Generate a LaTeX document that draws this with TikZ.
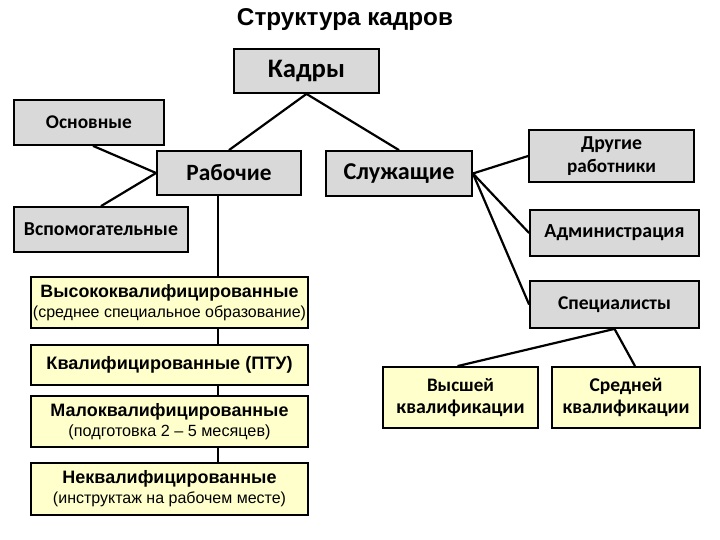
\documentclass[tikz,border=0pt]{standalone}
\usepackage{fontspec}
\setmainfont{Carlito}
\newfontfamily\arial{Liberation Sans}
\definecolor{boxgray}{HTML}{D9D9D9}
\definecolor{boxyellow}{HTML}{FFFFCC}
\newcommand{\fw}[2]{\resizebox{#1pt}{!}{#2}}
\begin{document}
\begin{tikzpicture}[x=1pt,y=-1pt,
  gbox/.style={draw=black,line width=1.8pt,fill=boxgray,inner sep=0pt,align=center,font=\bfseries},
  ybox/.style={draw=black,line width=1.8pt,fill=boxyellow,inner sep=0pt,align=center},
  conn/.style={draw=black,line width=2.2pt}]
\useasboundingbox (0,0) rectangle (720,540);
\node (title) at (345,20) {\fw{216}{\arial\bfseries Структура кадров}};
\node[gbox,minimum width=145pt,minimum height=44pt] (kadry) at (306.5,71) {\fw{77}{\bfseries Кадры}};
\node[gbox,minimum width=150pt,minimum height=45pt] (osn) at (89,122.5) {\fw{86}{Основные}};
\node[gbox,minimum width=144pt,minimum height=44pt] (rab) at (229,173) {\fw{85}{Рабочие}};
\node[gbox,minimum width=146pt,minimum height=45pt] (sluzh) at (399,173.5) {\fw{111}{Служащие}};
\node[gbox,minimum width=174pt,minimum height=45pt] (vspom) at (101,229.5) {\fw{154}{Вспомогательные}};
\node[gbox,minimum width=165pt,minimum height=52pt,font=\bfseries\fontsize{14}{23}\selectfont] (drug) at (611.5,156) {\fw{61}{Другие}\\\fw{89}{работники}};
\node[gbox,minimum width=169pt,minimum height=46pt] (admin) at (614.5,233) {\fw{140}{Администрация}};
\node[gbox,minimum width=169pt,minimum height=47pt] (spec) at (614.5,304.5) {\fw{113}{Специалисты}};
\node[ybox,minimum width=155pt,minimum height=61pt,font=\bfseries\fontsize{14}{22}\selectfont] (vys) at (460.5,397.5) {\fw{67}{Высшей}\\\fw{128}{квалификации}};
\node[ybox,minimum width=148pt,minimum height=61pt,font=\bfseries\fontsize{14}{22}\selectfont] (sred) at (626,397.5) {\fw{73}{Средней}\\\fw{127}{квалификации}};
\node[ybox,minimum width=277pt,minimum height=51pt,font=\fontsize{14}{20}\selectfont] (y1) at (169.5,302.5) {\fw{258}{\arial\bfseries Высококвалифицированные}\\\fw{273}{\arial (среднее специальное образование)}};
\node[ybox,minimum width=277pt,minimum height=40pt] (y2) at (169.5,365) {\fw{246}{\arial\bfseries Квалифицированные (ПТУ)}};
\node[ybox,minimum width=277pt,minimum height=51pt,font=\fontsize{14}{20}\selectfont] (y3) at (169.5,421.5) {\fw{238}{\arial\bfseries Малоквалифицированные}\\\fw{202}{\arial (подготовка 2 – 5 месяцев)}};
\node[ybox,minimum width=277pt,minimum height=52pt,font=\fontsize{14}{20}\selectfont] (y4) at (169.5,489) {\fw{214}{\arial\bfseries Неквалифицированные}\\\fw{233}{\arial (инструктаж на рабочем месте)}};
\coordinate (vx) at (218,0);
\draw[conn] (kadry.south) -- (rab.north);
\draw[conn] (kadry.south) -- (sluzh.north);
\draw[conn] ([xshift=4pt]osn.south) -- (rab.west);
\draw[conn] (vspom.north) -- (rab.west);
\draw[conn] (rab.south -| vx) -- (y1.north -| vx);
\draw[conn] (y1.south -| vx) -- (y2.north -| vx);
\draw[conn] (y2.south -| vx) -- (y3.north -| vx);
\draw[conn] (y3.south -| vx) -- (y4.north -| vx);
\draw[conn] (sluzh.east) -- (drug.west);
\draw[conn] (sluzh.east) -- (admin.west);
\draw[conn] (sluzh.east) -- (spec.west);
\draw[conn] (spec.south) -- ([xshift=-3pt]vys.north);
\draw[conn] (spec.south) -- ([xshift=9pt]sred.north);
\end{tikzpicture}
\end{document}
